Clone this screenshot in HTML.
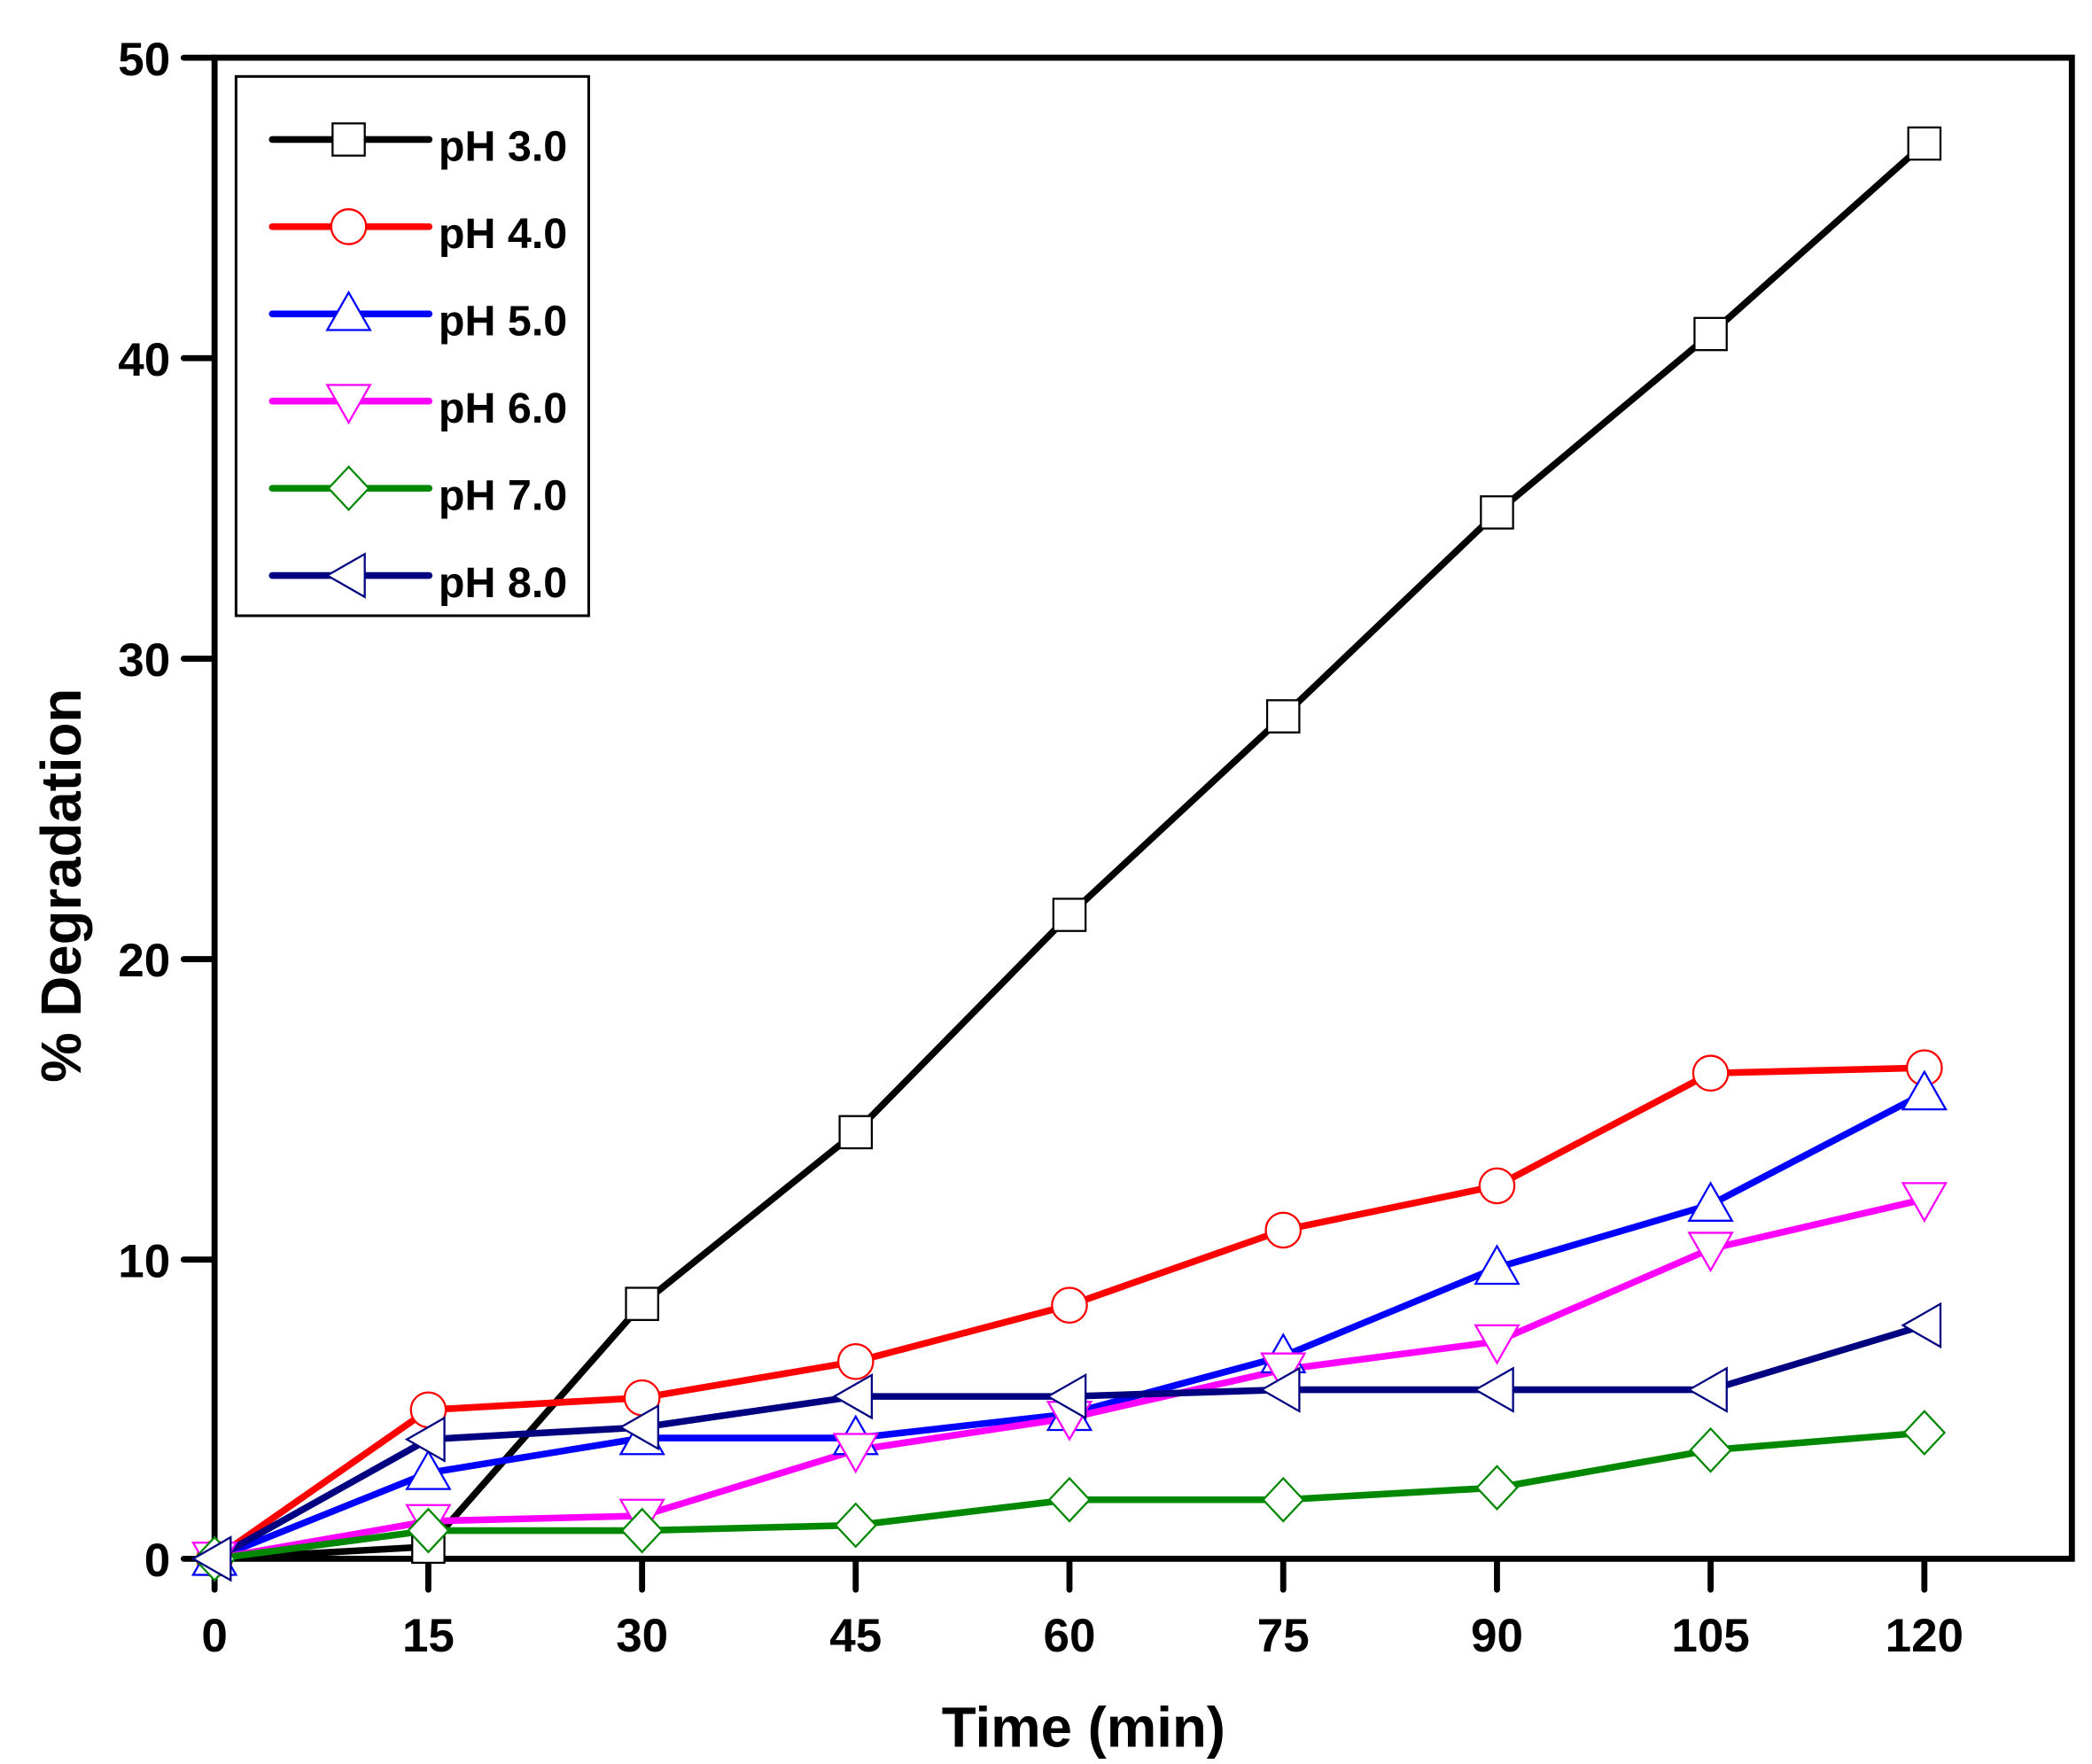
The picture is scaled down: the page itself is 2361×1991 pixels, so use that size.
<!DOCTYPE html>
<html><head><meta charset="utf-8"><style>html,body{margin:0;padding:0;background:#fff}svg{display:block}</style></head>
<body>
<svg width="2361" height="1991" viewBox="0 0 1560 1315" preserveAspectRatio="none" xmlns="http://www.w3.org/2000/svg" font-family="Liberation Sans, sans-serif" font-weight="bold">
<defs>
<g id="sq"><rect x="-12" y="-12" width="24" height="24" fill="#fff" stroke="#000" stroke-width="1.5"/></g>
<g id="ci"><circle r="13" fill="#fff" stroke="#f00" stroke-width="1.5"/></g>
<g id="tu"><polygon points="0,-16 16,12 -16,12" fill="#fff" stroke="#00f" stroke-width="1.5"/></g>
<g id="td"><polygon points="0,16 16,-12 -16,-12" fill="#fff" stroke="#f0f" stroke-width="1.5"/></g>
<g id="di"><polygon points="0,-16 15,0 0,16 -15,0" fill="#fff" stroke="#080" stroke-width="1.5"/></g>
<g id="tl"><polygon points="-16,0 12,-16 12,16" fill="#fff" stroke="#000080" stroke-width="1.5"/></g>
</defs>
<g stroke="#000" stroke-width="4.5" stroke-linecap="round" fill="none">
<rect x="160" y="43" width="1385" height="1119"/>
<line x1="137" y1="43" x2="160" y2="43"/><line x1="137" y1="267" x2="160" y2="267"/>
<line x1="137" y1="491" x2="160" y2="491"/><line x1="137" y1="715" x2="160" y2="715"/>
<line x1="137" y1="939" x2="160" y2="939"/><line x1="137" y1="1162" x2="160" y2="1162"/>
<line x1="160" y1="1162" x2="160" y2="1185"/><line x1="319.4" y1="1162" x2="319.4" y2="1185"/>
<line x1="478.8" y1="1162" x2="478.8" y2="1185"/><line x1="638.1" y1="1162" x2="638.1" y2="1185"/>
<line x1="797.5" y1="1162" x2="797.5" y2="1185"/><line x1="956.9" y1="1162" x2="956.9" y2="1185"/>
<line x1="1116.3" y1="1162" x2="1116.3" y2="1185"/><line x1="1275.6" y1="1162" x2="1275.6" y2="1185"/>
<line x1="1435" y1="1162" x2="1435" y2="1185"/>
</g>
<g font-size="35" text-anchor="end">
<text x="127" y="56">50</text><text x="127" y="280">40</text><text x="127" y="504">30</text>
<text x="127" y="728">20</text><text x="127" y="952">10</text><text x="127" y="1175">0</text>
</g>
<g font-size="35" text-anchor="middle">
<text x="160" y="1231">0</text><text x="319.4" y="1231">15</text><text x="478.8" y="1231">30</text>
<text x="638.1" y="1231">45</text><text x="797.5" y="1231">60</text><text x="956.9" y="1231">75</text>
<text x="1116.3" y="1231">90</text><text x="1275.6" y="1231">105</text><text x="1435" y="1231">120</text>
</g>
<text x="808" y="1302" font-size="42" text-anchor="middle">Time (min)</text>
<text transform="translate(60,660) rotate(-90)" font-size="42" text-anchor="middle">% Degradation</text>
<g fill="none" stroke-width="5" stroke-linejoin="round">
<polyline stroke="#000" points="160,1162 319.4,1153 478.8,972 638.1,844 797.5,682 956.9,534 1116.3,382 1275.6,249 1435,107"/>
<polyline stroke="#f00" points="160,1162 319.4,1051 478.8,1042 638.1,1015 797.5,973 956.9,917 1116.3,884 1275.6,800 1435,796"/>
<polyline stroke="#00f" points="160,1162 319.4,1098 478.8,1072 638.1,1072 797.5,1054 956.9,1011 1116.3,945 1275.6,898 1435,815"/>
<polyline stroke="#f0f" points="160,1162 319.4,1134 478.8,1130 638.1,1081 797.5,1057 956.9,1021 1116.3,1000 1275.6,931 1435,894"/>
<polyline stroke="#080" points="160,1162 319.4,1141 478.8,1141 638.1,1137 797.5,1118 956.9,1118 1116.3,1109 1275.6,1081 1435,1068"/>
<polyline stroke="#000080" points="160,1162 319.4,1073 478.8,1064 638.1,1041 797.5,1041 956.9,1036 1116.3,1036 1275.6,1036 1435,988"/>
</g>
<g>
<use href="#sq" x="160" y="1162"/><use href="#sq" x="319.4" y="1153"/><use href="#sq" x="478.8" y="972"/><use href="#sq" x="638.1" y="844"/><use href="#sq" x="797.5" y="682"/><use href="#sq" x="956.9" y="534"/><use href="#sq" x="1116.3" y="382"/><use href="#sq" x="1275.6" y="249"/><use href="#sq" x="1435" y="107"/>
<use href="#ci" x="160" y="1162"/><use href="#ci" x="319.4" y="1051"/><use href="#ci" x="478.8" y="1042"/><use href="#ci" x="638.1" y="1015"/><use href="#ci" x="797.5" y="973"/><use href="#ci" x="956.9" y="917"/><use href="#ci" x="1116.3" y="884"/><use href="#ci" x="1275.6" y="800"/><use href="#ci" x="1435" y="796"/>
<use href="#tu" x="160" y="1162"/><use href="#tu" x="319.4" y="1098"/><use href="#tu" x="478.8" y="1072"/><use href="#tu" x="638.1" y="1072"/><use href="#tu" x="797.5" y="1054"/><use href="#tu" x="956.9" y="1011"/><use href="#tu" x="1116.3" y="945"/><use href="#tu" x="1275.6" y="898"/><use href="#tu" x="1435" y="815"/>
<use href="#td" x="160" y="1162"/><use href="#td" x="319.4" y="1134"/><use href="#td" x="478.8" y="1130"/><use href="#td" x="638.1" y="1081"/><use href="#td" x="797.5" y="1057"/><use href="#td" x="956.9" y="1021"/><use href="#td" x="1116.3" y="1000"/><use href="#td" x="1275.6" y="931"/><use href="#td" x="1435" y="894"/>
<use href="#di" x="160" y="1162"/><use href="#di" x="319.4" y="1141"/><use href="#di" x="478.8" y="1141"/><use href="#di" x="638.1" y="1137"/><use href="#di" x="797.5" y="1118"/><use href="#di" x="956.9" y="1118"/><use href="#di" x="1116.3" y="1109"/><use href="#di" x="1275.6" y="1081"/><use href="#di" x="1435" y="1068"/>
<use href="#tl" x="160" y="1162"/><use href="#tl" x="319.4" y="1073"/><use href="#tl" x="478.8" y="1064"/><use href="#tl" x="638.1" y="1041"/><use href="#tl" x="797.5" y="1041"/><use href="#tl" x="956.9" y="1036"/><use href="#tl" x="1116.3" y="1036"/><use href="#tl" x="1275.6" y="1036"/><use href="#tl" x="1435" y="988"/>
</g>
<rect x="176" y="57" width="263" height="402" fill="#fff" stroke="#000" stroke-width="2"/>
<g stroke-width="5" stroke-linecap="round">
<line x1="203" y1="104" x2="320" y2="104" stroke="#000"/>
<line x1="203" y1="169" x2="320" y2="169" stroke="#f00"/>
<line x1="203" y1="234" x2="320" y2="234" stroke="#00f"/>
<line x1="203" y1="299" x2="320" y2="299" stroke="#f0f"/>
<line x1="203" y1="364" x2="320" y2="364" stroke="#080"/>
<line x1="203" y1="429" x2="320" y2="429" stroke="#000080"/>
</g>
<use href="#sq" x="260" y="104"/><use href="#ci" x="260" y="169"/><use href="#tu" x="260" y="234"/>
<use href="#td" x="260" y="299"/><use href="#di" x="260" y="364"/><use href="#tl" x="260" y="429"/>
<g font-size="32">
<text x="327" y="120">pH 3.0</text><text x="327" y="185">pH 4.0</text><text x="327" y="250">pH 5.0</text>
<text x="327" y="315">pH 6.0</text><text x="327" y="380">pH 7.0</text><text x="327" y="445">pH 8.0</text>
</g>
</svg>
</body></html>
